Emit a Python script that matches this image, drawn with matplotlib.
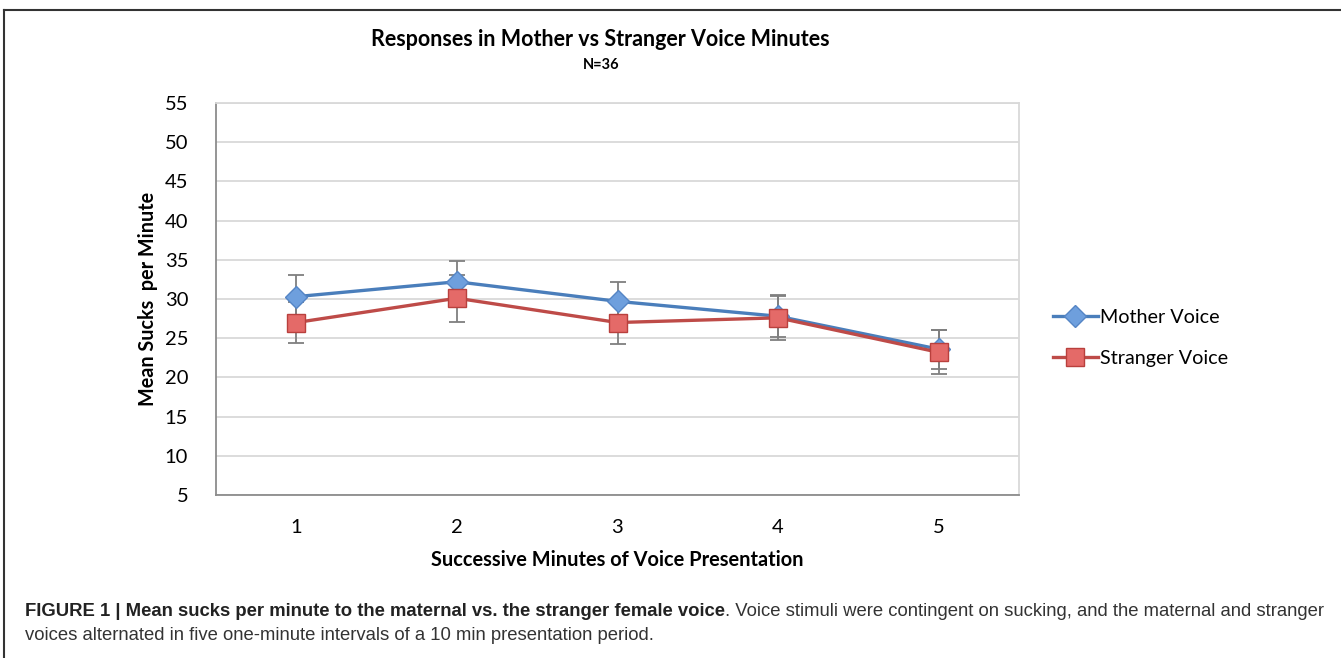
import matplotlib
matplotlib.use("Agg")
import matplotlib.pyplot as plt
from matplotlib.lines import Line2D
import numpy as np

minutes = ["1", "2", "3", "4", "5"]
mother = [30.3, 32.2, 29.7, 27.8, 23.6]
mother_err = [2.7, 2.6, 2.5, 2.7, 2.5]
stranger = [27.0, 30.1, 27.0, 27.6, 23.2]
stranger_err = [2.6, 3.0, 2.8, 2.8, 2.8]
yticks = [5, 10, 15, 20, 25, 30, 35, 40, 45, 50, 55]

W, H = 1341, 658
fig = plt.figure(figsize=(W / 100, H / 100), dpi=100)
fig.patch.set_facecolor("white")

def fx(px):
    return px / W

def fy(py):
    return 1 - py / H

ax = fig.add_axes([fx(216), fy(495), fx(1019 - 216), (495 - 103) / H])
x = np.arange(len(minutes))

blue = "#4A7EBB"
red = "#BE4B48"
errc = "#7F7F7F"

ax.errorbar(x, mother, yerr=mother_err, fmt="none", ecolor=errc, elinewidth=1.3,
            capsize=6, capthick=1.3, zorder=2)
ax.errorbar(x, stranger, yerr=stranger_err, fmt="none", ecolor=errc, elinewidth=1.3,
            capsize=6, capthick=1.3, zorder=2)
l1, = ax.plot(x, mother, color=blue, lw=2.4, marker="D", markersize=11,
              markerfacecolor="#6E9FDD", markeredgecolor="#5585C5", markeredgewidth=1.0,
              label="Mother Voice", zorder=3)
l2, = ax.plot(x, stranger, color=red, lw=2.4, marker="s", markersize=13,
              markerfacecolor="#E46A68", markeredgecolor="#B9403D", markeredgewidth=1.0,
              label="Stranger Voice", zorder=4)

ax.set_xlim(-0.5, len(minutes) - 0.5)
ax.set_ylim(5, 55)
ax.set_yticks(yticks)
ax.set_xticks(x)
ax.set_xticklabels(minutes)
ax.yaxis.grid(True, color="#D9D9D9", lw=1.3)
ax.set_axisbelow(True)
for s in ["top", "right"]:
    ax.spines[s].set_color("#D9D9D9")
    ax.spines[s].set_linewidth(1.3)
for s in ["left", "bottom"]:
    ax.spines[s].set_color("#8C8C8C")
    ax.spines[s].set_linewidth(1.3)
ax.tick_params(length=0, labelsize=14.5, colors="#000000")
ax.tick_params(axis="y", pad=20)
ax.tick_params(axis="x", pad=17)
for lab in ax.get_xticklabels() + ax.get_yticklabels():
    lab.set_fontfamily("Lato")

ax.set_ylabel("Mean Sucks  per Minute", fontsize=14.2, fontweight="bold",
              fontfamily="Lato", labelpad=5)
ax.set_xlabel("Successive Minutes of Voice Presentation", fontsize=14.4,
              fontweight="bold", fontfamily="Lato", labelpad=10)

fig.text(fx(600), fy(40), "Responses in Mother vs Stranger Voice Minutes",
         ha="center", va="center", fontsize=15.5, fontweight="bold",
         fontfamily="Lato")
fig.text(fx(601), fy(65), "N=36", ha="center", va="center", fontsize=10.5,
         fontweight="bold", fontfamily="Lato")

leg = fig.legend(handles=[l1, l2], loc="center left",
                 bbox_to_anchor=(fx(1035), fy(338)), frameon=False,
                 prop={"family": "Lato", "size": 14.2}, handlelength=2.3,
                 handletextpad=0.1, labelspacing=1.2)

# border lines
fig.add_artist(Line2D([fx(4), 1], [fy(10), fy(10)], color="#333333", lw=1.5))
fig.add_artist(Line2D([fx(4), fx(4)], [0, fy(10)], color="#333333", lw=1.5))

cap_fs = 13.3
t1 = fig.text(fx(25), fy(611), "FIGURE 1 | Mean sucks per minute to the maternal vs. the stranger female voice",
              ha="left", va="center", fontsize=cap_fs, fontweight="bold",
              fontfamily="Liberation Sans", color="#222222")
fig.text(fx(25), fy(636),
         "voices alternated in five one-minute intervals of a 10 min presentation period.",
         ha="left", va="center", fontsize=cap_fs, fontfamily="Liberation Sans", color="#333333")
fig.canvas.draw()
bb = t1.get_window_extent()
fig.text(bb.x1 / W, fy(611),
         ". Voice stimuli were contingent on sucking, and the maternal and stranger",
         ha="left", va="center", fontsize=cap_fs, fontfamily="Liberation Sans", color="#333333")

fig.savefig("out.png", dpi=100)
